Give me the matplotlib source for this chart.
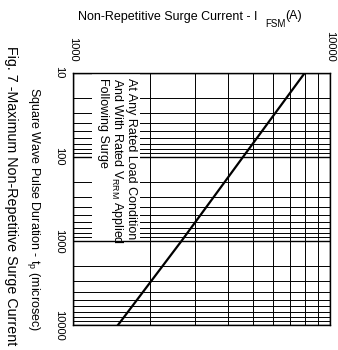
"""Fig. 7 - Maximum non-repetitive surge current vs square wave pulse duration.

The sheet is printed sideways, so the current axis runs across the top and
the pulse duration runs downwards; nearly all text is turned by -90 degrees.
"""
import matplotlib
matplotlib.use("Agg")
import matplotlib.pyplot as plt
from matplotlib.patches import Rectangle
from matplotlib.ticker import NullFormatter
from matplotlib.transforms import blended_transform_factory

plt.rcParams["font.family"] = ["Liberation Sans", "DejaVu Sans"]
plt.rcParams["mathtext.default"] = "regular"

# ---------------------------------------------------------------------------
# data
# ---------------------------------------------------------------------------
duration_us = [10, 100, 1000, 10000]
surge_current_a = [8000, 4600, 2650, 1500]

current_ticks = [1000, 10000]
current_labels = ["1000", "10000"]
duration_ticks = [10, 100, 1000, 10000]
duration_labels = ["10", "100", "1000", "10000"]

note = ("At Any Rated Load Condition\n"
        "And With Rated V$_{RRM}$ Applied\n"
        "Following Surge")

W, H = 338, 350
L, R, T, B = 72.7, 330, 72.5, 325
fig = plt.figure(figsize=(W / 100, H / 100), dpi=100)
ax = fig.add_axes([L / W, 1 - B / H, (R - L) / W, (B - T) / H])

ax.plot(surge_current_a, duration_us, color="black", lw=1.6, zorder=5)

ax.set_xscale("log")
ax.set_yscale("log")
ax.set_xlim(1000, 10000)
ax.set_ylim(10000, 10)

# log grid, every 1..9 of each decade
ax.grid(True, which="major", color="black", lw=1.0, zorder=1)
ax.grid(True, which="minor", color="black", lw=0.7, zorder=1)
ax.set_axisbelow(True)

ax.xaxis.tick_top()
ax.set_xticks(current_ticks)
ax.set_xticklabels(current_labels, rotation=-90, fontsize=8)
ax.set_yticks(duration_ticks)
ax.set_yticklabels(duration_labels, rotation=-90, va="center", fontsize=8)
ax.xaxis.set_minor_formatter(NullFormatter())
ax.yaxis.set_minor_formatter(NullFormatter())
ax.tick_params(which="both", length=0)
ax.tick_params(axis="x", pad=8)
ax.tick_params(axis="y", pad=6)

for sp in ax.spines.values():
    sp.set_linewidth(1.0)
    sp.set_color("black")

# white panel behind the note (hides the horizontal grid there)
x0 = (92 - L) / (R - L)
x1 = (140 - L) / (R - L)
panel = Rectangle((x0, 10), x1 - x0, 970 - 10, facecolor="white",
                  edgecolor="none", zorder=2,
                  transform=blended_transform_factory(ax.transAxes, ax.transData))
ax.add_patch(panel)

ax.text((137 - L) / (R - L), 1 - (78 - T) / (B - T), note,
        transform=ax.transAxes, rotation=-90, ha="right", va="top",
        multialignment="left", fontsize=9, linespacing=1.0, zorder=6)

# labels
fig.text(78 / W, 1 - 20 / H, "Non-Repetitive Surge Current - I",
         ha="left", va="baseline", fontsize=9)
fig.text(265 / W, 1 - 27 / H, "FSM", ha="left", va="baseline", fontsize=7)
fig.text(285 / W, 1 - 18.5 / H, "(A)", ha="left", va="baseline", fontsize=9)

fig.text(33 / W, 1 - 209 / H, "Square Wave Pulse Duration - t$_{p}$ (microsec)",
         rotation=-90, ha="center", va="center", fontsize=9)
fig.text(11 / W, 1 - 196 / H, "Fig. 7 -Maximum Non-Repetitive Surge Current",
         rotation=-90, ha="center", va="center", fontsize=10.3)

fig.savefig("out.png", dpi=100)
plt.close(fig)
